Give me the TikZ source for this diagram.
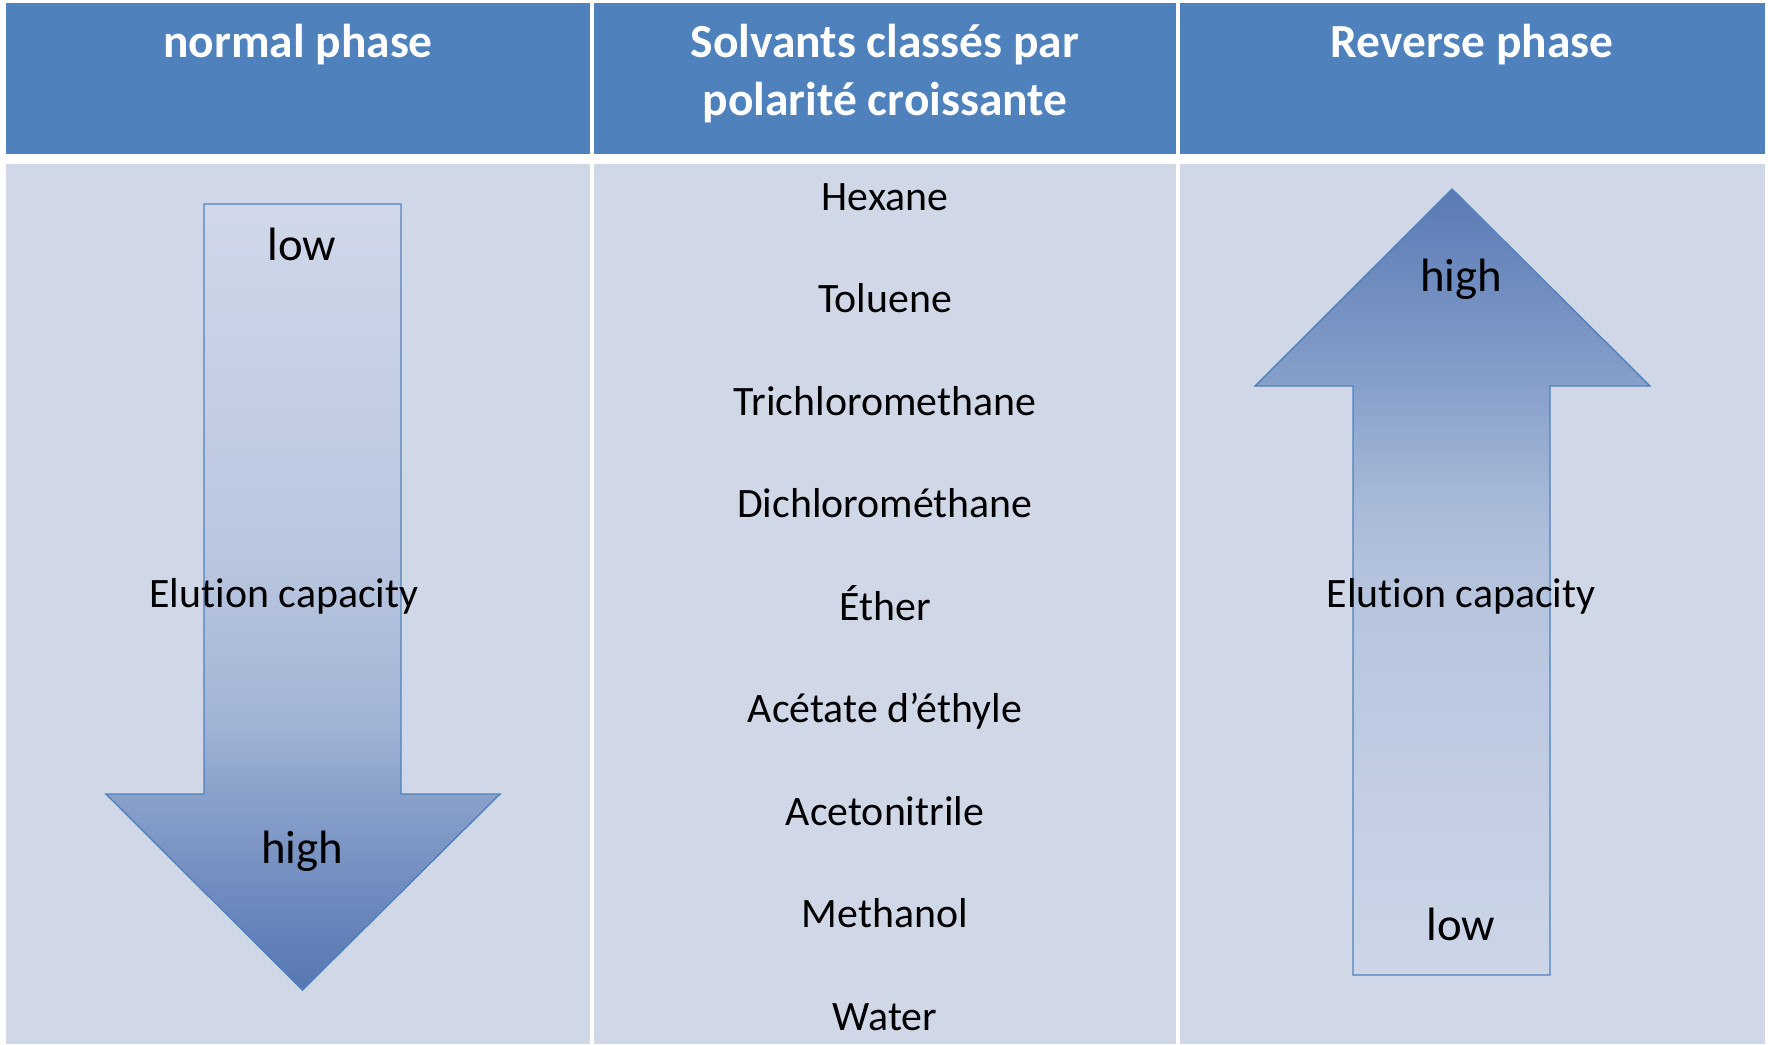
\documentclass[tikz,border=0pt]{standalone}
\usepackage{fontspec}
\setmainfont{Carlito}[Ligatures=NoCommon]
\usepackage{tikz}

\definecolor{headblue}{HTML}{4F81BD}
\definecolor{cellblue}{HTML}{D0D8E8}
% degrade des fleches
\pgfdeclareverticalshading{normalgrad}{100bp}{%
  color(0bp)=(rgb,255:red,88;green,119;blue,178); color(25bp)=(rgb,255:red,88;green,119;blue,178);
  color(30bp)=(rgb,255:red,106;green,135;blue,189); color(37.5bp)=(rgb,255:red,138;green,161;blue,202);
  color(42.5bp)=(rgb,255:red,163;green,181;blue,214); color(52.5bp)=(rgb,255:red,185;green,198;blue,223);
  color(75bp)=(rgb,255:red,208;green,216;blue,233); color(100bp)=(rgb,255:red,208;green,216;blue,233)}
\pgfdeclareverticalshading{reversegrad}{100bp}{%
  color(0bp)=(rgb,255:red,205;green,214;blue,232); color(25bp)=(rgb,255:red,205;green,214;blue,232);
  color(37.5bp)=(rgb,255:red,194;green,205;blue,227); color(50bp)=(rgb,255:red,181;green,195;blue,221);
  color(55bp)=(rgb,255:red,168;green,185;blue,216); color(62.5bp)=(rgb,255:red,135;green,160;blue,202);
  color(75bp)=(rgb,255:red,90;green,122;blue,181); color(100bp)=(rgb,255:red,90;green,122;blue,181)}

\begin{document}
\begin{tikzpicture}[x=0.01cm, y=-0.01cm,
  headcell/.style={fill=headblue},
  bodycell/.style={fill=cellblue},
  headtext/.style={anchor=base, text=white, font=\fontsize{13.5}{16}\selectfont\bfseries},
  solvtext/.style={anchor=base, font=\fontsize{11.9}{14}\selectfont},
  arrowtext/.style={anchor=base, font=\fontsize{13.3}{16}\selectfont},
  arrowshape/.style={draw=headblue, line width=0.4pt, line join=miter}]
  \useasboundingbox (0,0) rectangle (1768,1044);
  \fill[white] (0,0) rectangle (1768,1044);

  % Header
  \fill[headcell] (5.6,3.4) rectangle (590,154);
  \fill[headcell] (594,3.4) rectangle (1176,154);
  \fill[headcell] (1180,3.4) rectangle (1765,154);
  \node[headtext] (hnormal) at (298,57.5) {normal phase};
  \node[headtext] (hsolv1) at (885,57.5) {Solvants classés par};
  \node[headtext] (hsolv2) at (885,115.5) {polarité croissante};
  \node[headtext] (hreverse) at (1472,57.5) {Reverse phase};

  % Cells
  \fill[bodycell] (5.6,163.5) rectangle (590,1044);
  \fill[bodycell] (594,163.5) rectangle (1176,1044);
  \fill[bodycell] (1180,163.5) rectangle (1765,1044);

  % Solvants
  \foreach \name/\solv [count=\i from 0] in {hex/Hexane, tol/Toluene,
      tcm/Trichloromethane, dcm/Dichlorométhane, eth/Éther,
      acet/Acétate d’éthyle, acn/Acetonitrile, meoh/Methanol, water/Water}
    \node[solvtext] (\name) at (885,210+102.5*\i) {\solv};

  % Normal phase
  \draw[arrowshape, shading=normalgrad]
    (204,204) -- (401,204) -- (401,794) -- (500,794) -- (302.5,990)
    -- (106,794) -- (204,794) -- cycle;
  \node[arrowtext] (nlow) at (302,260) {low};
  \node[solvtext] (nelution) at (284,607) {Elution capacity};
  \node[arrowtext] (nhigh) at (302,863) {high};

  % Reverse phase
  \draw[arrowshape, shading=reversegrad]
    (1452,189) -- (1650,386) -- (1550,386) -- (1550,975) -- (1353,975)
    -- (1353,386) -- (1255,386) -- cycle;
  \node[arrowtext] (rhigh) at (1461,291) {high};
  \node[solvtext] (relution) at (1461,607) {Elution capacity};
  \node[arrowtext] (rlow) at (1461,940) {low};
\end{tikzpicture}
\end{document}
